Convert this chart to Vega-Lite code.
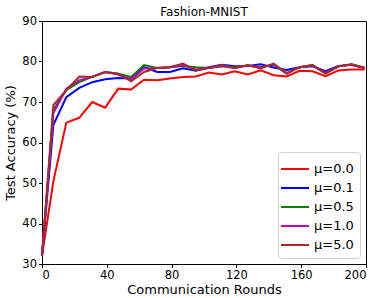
{
  "$schema": "https://vega.github.io/schema/vega-lite/v6.json",
  "autosize": {"type": "none"},
  "padding": {"left": 42, "top": 21, "right": 16, "bottom": 34},
  "width": 324,
  "height": 243,
  "title": {"text": "Fashion-MNIST", "font": "DejaVu Sans", "fontSize": 12, "fontWeight": "normal", "color": "black", "offset": -4},
  "config": {
    "view": {"stroke": "black", "strokeWidth": 1},
    "axis": {"grid": false, "domain": false, "tickColor": "black", "tickSize": 3.5, "labelFont": "DejaVu Sans", "labelFontSize": 11.5, "labelColor": "black", "titleFont": "DejaVu Sans", "titleFontSize": 13, "titleFontWeight": "normal", "titleColor": "black", "labelPadding": 2}
  },
  "data": {"values": [
    {"round": 0, "mu": "μ=0.0", "acc": 32}, {"round": 7, "mu": "μ=0.0", "acc": 50.4}, {"round": 15, "mu": "μ=0.0", "acc": 64.9}, {"round": 23, "mu": "μ=0.0", "acc": 66.1}, {"round": 31, "mu": "μ=0.0", "acc": 70.0}, {"round": 39, "mu": "μ=0.0", "acc": 68.6}, {"round": 47, "mu": "μ=0.0", "acc": 73.3}, {"round": 55, "mu": "μ=0.0", "acc": 73.1}, {"round": 63, "mu": "μ=0.0", "acc": 75.5}, {"round": 71, "mu": "μ=0.0", "acc": 75.4}, {"round": 79, "mu": "μ=0.0", "acc": 75.8}, {"round": 87, "mu": "μ=0.0", "acc": 76.2}, {"round": 95, "mu": "μ=0.0", "acc": 76.3}, {"round": 103, "mu": "μ=0.0", "acc": 77.3}, {"round": 111, "mu": "μ=0.0", "acc": 76.8}, {"round": 119, "mu": "μ=0.0", "acc": 77.6}, {"round": 127, "mu": "μ=0.0", "acc": 76.8}, {"round": 135, "mu": "μ=0.0", "acc": 77.8}, {"round": 143, "mu": "μ=0.0", "acc": 76.6}, {"round": 151, "mu": "μ=0.0", "acc": 76.3}, {"round": 159, "mu": "μ=0.0", "acc": 77.7}, {"round": 167, "mu": "μ=0.0", "acc": 77.6}, {"round": 175, "mu": "μ=0.0", "acc": 76.4}, {"round": 183, "mu": "μ=0.0", "acc": 77.8}, {"round": 191, "mu": "μ=0.0", "acc": 78.0}, {"round": 199, "mu": "μ=0.0", "acc": 78.0},
    {"round": 0, "mu": "μ=0.1", "acc": 32}, {"round": 7, "mu": "μ=0.1", "acc": 64.3}, {"round": 15, "mu": "μ=0.1", "acc": 71.2}, {"round": 23, "mu": "μ=0.1", "acc": 73.5}, {"round": 31, "mu": "μ=0.1", "acc": 74.9}, {"round": 39, "mu": "μ=0.1", "acc": 75.6}, {"round": 47, "mu": "μ=0.1", "acc": 75.9}, {"round": 55, "mu": "μ=0.1", "acc": 75.8}, {"round": 63, "mu": "μ=0.1", "acc": 78.6}, {"round": 71, "mu": "μ=0.1", "acc": 77.4}, {"round": 79, "mu": "μ=0.1", "acc": 77.4}, {"round": 87, "mu": "μ=0.1", "acc": 78.3}, {"round": 95, "mu": "μ=0.1", "acc": 77.7}, {"round": 103, "mu": "μ=0.1", "acc": 78.6}, {"round": 111, "mu": "μ=0.1", "acc": 79.2}, {"round": 119, "mu": "μ=0.1", "acc": 78.8}, {"round": 127, "mu": "μ=0.1", "acc": 78.9}, {"round": 135, "mu": "μ=0.1", "acc": 79.3}, {"round": 143, "mu": "μ=0.1", "acc": 78.5}, {"round": 151, "mu": "μ=0.1", "acc": 77.9}, {"round": 159, "mu": "μ=0.1", "acc": 78.6}, {"round": 167, "mu": "μ=0.1", "acc": 78.8}, {"round": 175, "mu": "μ=0.1", "acc": 77.6}, {"round": 183, "mu": "μ=0.1", "acc": 78.9}, {"round": 191, "mu": "μ=0.1", "acc": 79.2}, {"round": 199, "mu": "μ=0.1", "acc": 78.4},
    {"round": 0, "mu": "μ=0.5", "acc": 32}, {"round": 7, "mu": "μ=0.5", "acc": 68.0}, {"round": 15, "mu": "μ=0.5", "acc": 73.0}, {"round": 23, "mu": "μ=0.5", "acc": 74.9}, {"round": 31, "mu": "μ=0.5", "acc": 76.2}, {"round": 39, "mu": "μ=0.5", "acc": 77.4}, {"round": 47, "mu": "μ=0.5", "acc": 77.0}, {"round": 55, "mu": "μ=0.5", "acc": 76.2}, {"round": 63, "mu": "μ=0.5", "acc": 79.1}, {"round": 71, "mu": "μ=0.5", "acc": 78.4}, {"round": 79, "mu": "μ=0.5", "acc": 78.6}, {"round": 87, "mu": "μ=0.5", "acc": 78.9}, {"round": 95, "mu": "μ=0.5", "acc": 78.6}, {"round": 103, "mu": "μ=0.5", "acc": 78.4}, {"round": 111, "mu": "μ=0.5", "acc": 78.8}, {"round": 119, "mu": "μ=0.5", "acc": 78.5}, {"round": 127, "mu": "μ=0.5", "acc": 79.0}, {"round": 135, "mu": "μ=0.5", "acc": 78.6}, {"round": 143, "mu": "μ=0.5", "acc": 79.2}, {"round": 151, "mu": "μ=0.5", "acc": 77.0}, {"round": 159, "mu": "μ=0.5", "acc": 78.6}, {"round": 167, "mu": "μ=0.5", "acc": 79.1}, {"round": 175, "mu": "μ=0.5", "acc": 77.1}, {"round": 183, "mu": "μ=0.5", "acc": 78.8}, {"round": 191, "mu": "μ=0.5", "acc": 79.3}, {"round": 199, "mu": "μ=0.5", "acc": 78.5},
    {"round": 0, "mu": "μ=1.0", "acc": 32}, {"round": 7, "mu": "μ=1.0", "acc": 67.2}, {"round": 15, "mu": "μ=1.0", "acc": 73.3}, {"round": 23, "mu": "μ=1.0", "acc": 75.4}, {"round": 31, "mu": "μ=1.0", "acc": 76.2}, {"round": 39, "mu": "μ=1.0", "acc": 77.4}, {"round": 47, "mu": "μ=1.0", "acc": 76.8}, {"round": 55, "mu": "μ=1.0", "acc": 75.6}, {"round": 63, "mu": "μ=1.0", "acc": 78.3}, {"round": 71, "mu": "μ=1.0", "acc": 78.4}, {"round": 79, "mu": "μ=1.0", "acc": 78.6}, {"round": 87, "mu": "μ=1.0", "acc": 79.1}, {"round": 95, "mu": "μ=1.0", "acc": 78.0}, {"round": 103, "mu": "μ=1.0", "acc": 78.4}, {"round": 111, "mu": "μ=1.0", "acc": 78.9}, {"round": 119, "mu": "μ=1.0", "acc": 78.4}, {"round": 127, "mu": "μ=1.0", "acc": 79.0}, {"round": 135, "mu": "μ=1.0", "acc": 78.5}, {"round": 143, "mu": "μ=1.0", "acc": 79.3}, {"round": 151, "mu": "μ=1.0", "acc": 77.2}, {"round": 159, "mu": "μ=1.0", "acc": 78.6}, {"round": 167, "mu": "μ=1.0", "acc": 79.0}, {"round": 175, "mu": "μ=1.0", "acc": 77.2}, {"round": 183, "mu": "μ=1.0", "acc": 78.8}, {"round": 191, "mu": "μ=1.0", "acc": 79.2}, {"round": 199, "mu": "μ=1.0", "acc": 78.4},
    {"round": 0, "mu": "μ=5.0", "acc": 32}, {"round": 7, "mu": "μ=5.0", "acc": 69.2}, {"round": 15, "mu": "μ=5.0", "acc": 72.9}, {"round": 23, "mu": "μ=5.0", "acc": 76.3}, {"round": 31, "mu": "μ=5.0", "acc": 76.2}, {"round": 39, "mu": "μ=5.0", "acc": 77.4}, {"round": 47, "mu": "μ=5.0", "acc": 77.0}, {"round": 55, "mu": "μ=5.0", "acc": 75.1}, {"round": 63, "mu": "μ=5.0", "acc": 77.4}, {"round": 71, "mu": "μ=5.0", "acc": 78.4}, {"round": 79, "mu": "μ=5.0", "acc": 78.6}, {"round": 87, "mu": "μ=5.0", "acc": 79.5}, {"round": 95, "mu": "μ=5.0", "acc": 77.8}, {"round": 103, "mu": "μ=5.0", "acc": 78.4}, {"round": 111, "mu": "μ=5.0", "acc": 79.1}, {"round": 119, "mu": "μ=5.0", "acc": 78.4}, {"round": 127, "mu": "μ=5.0", "acc": 79.1}, {"round": 135, "mu": "μ=5.0", "acc": 78.3}, {"round": 143, "mu": "μ=5.0", "acc": 79.5}, {"round": 151, "mu": "μ=5.0", "acc": 77.0}, {"round": 159, "mu": "μ=5.0", "acc": 78.6}, {"round": 167, "mu": "μ=5.0", "acc": 79.1}, {"round": 175, "mu": "μ=5.0", "acc": 77.0}, {"round": 183, "mu": "μ=5.0", "acc": 78.8}, {"round": 191, "mu": "μ=5.0", "acc": 79.3}, {"round": 199, "mu": "μ=5.0", "acc": 78.4}
  ]},
  "mark": {"type": "line", "strokeWidth": 2},
  "encoding": {
    "x": {"field": "round", "type": "quantitative", "scale": {"domain": [0, 200], "nice": false, "zero": false}, "axis": {"values": [0, 40, 80, 120, 160, 200], "title": "Communication Rounds", "titlePadding": 2}},
    "y": {"field": "acc", "type": "quantitative", "scale": {"domain": [30, 90], "nice": false, "zero": false}, "axis": {"values": [30, 40, 50, 60, 70, 80, 90], "title": "Test Accuracy (%)", "titlePadding": 4}},
    "color": {"field": "mu", "type": "nominal", "scale": {"domain": ["μ=0.0", "μ=0.1", "μ=0.5", "μ=1.0", "μ=5.0"], "range": ["#ff0000", "#0000ff", "#008000", "#bf00bf", "#a52a2a"]},
      "legend": {"title": null, "orient": "bottom-right", "offset": 6, "padding": 6, "strokeColor": "#d0d0d0", "fillColor": "white", "cornerRadius": 3, "symbolType": "M-1.4,0H1.4", "symbolStrokeWidth": 2, "symbolSize": 400, "labelFont": "DejaVu Sans", "labelFontSize": 13, "labelColor": "black", "rowPadding": 1, "labelOffset": 8}}
  }
}
